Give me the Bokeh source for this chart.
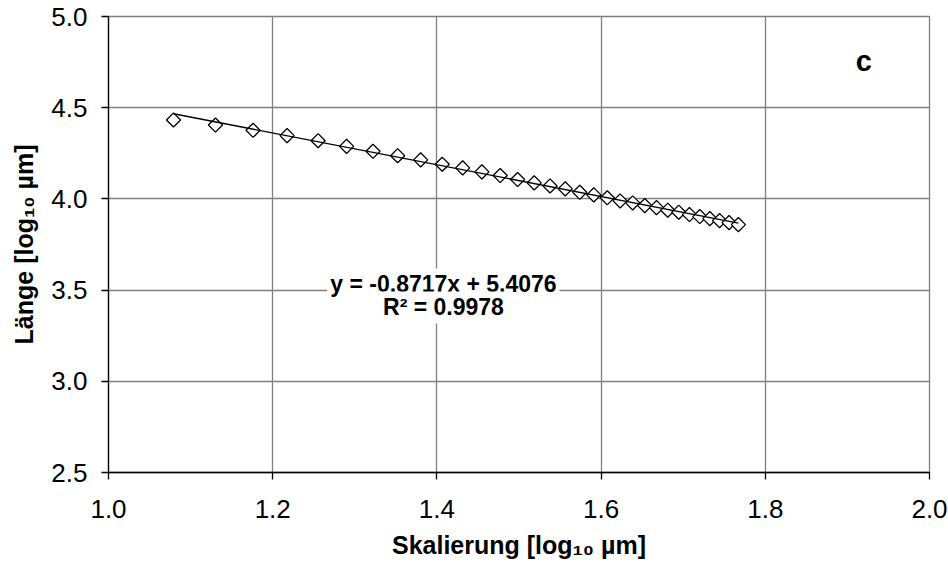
import numpy as np
from bokeh.plotting import figure
from bokeh.models import Range1d, FixedTicker, NumeralTickFormatter, Label
from bokeh.embed import file_html
from bokeh.resources import INLINE

# log10 of measuring scale (µm) and measured length (µm)
scale_log = [1.0792, 1.1303, 1.1761, 1.2175, 1.2553, 1.2900, 1.3222, 1.3522,
             1.3802, 1.4065, 1.4314, 1.4548, 1.4771, 1.4983, 1.5185, 1.5378,
             1.5563, 1.5740, 1.5911, 1.6075, 1.6232, 1.6385, 1.6532, 1.6675,
             1.6812, 1.6946, 1.7076, 1.7202, 1.7324, 1.7443, 1.7559, 1.7672]
length_log = [4.433, 4.405, 4.376, 4.347, 4.319, 4.288, 4.261, 4.237,
              4.214, 4.190, 4.170, 4.148, 4.128, 4.106, 4.088, 4.071,
              4.055, 4.036, 4.022, 4.006, 3.989, 3.978, 3.963, 3.952,
              3.938, 3.927, 3.914, 3.903, 3.892, 3.881, 3.870, 3.859]

# linear fit
slope = -0.8717
intercept = 5.4076
r_squared = 0.9978

x_ticks = [1.0, 1.2, 1.4, 1.6, 1.8, 2.0]
y_ticks = [2.5, 3.0, 3.5, 4.0, 4.5, 5.0]

FONT = "Liberation Sans"
GRID = "#7f7f7f"

p = figure(width=948, height=565, output_backend="svg", toolbar_location=None,
           x_range=Range1d(1.0, 2.0), y_range=Range1d(2.5, 5.0),
           min_border_left=108, min_border_right=19,
           min_border_top=16, min_border_bottom=93)
p.background_fill_color = "white"
p.border_fill_color = "white"
p.outline_line_color = GRID
p.outline_line_width = 1.3

for ax, ticks in ((p.xaxis, x_ticks), (p.yaxis, y_ticks)):
    ax.ticker = FixedTicker(ticks=ticks)
    ax.formatter = NumeralTickFormatter(format="0.0")
    ax.minor_tick_line_color = None
    ax.major_tick_in = 0
    ax.major_tick_out = 7
    ax.major_tick_line_color = "black"
    ax.major_tick_line_width = 1.3
    ax.axis_line_color = "black"
    ax.axis_line_width = 1.3
    ax.major_label_text_font = FONT
    ax.major_label_text_font_size = "26px"
    ax.major_label_text_color = "black"
    ax.axis_label_text_font = FONT
    ax.axis_label_text_font_size = "25px"
    ax.axis_label_text_font_style = "bold"
    ax.axis_label_text_color = "black"

p.xaxis.axis_label = "Skalierung [log₁₀ µm]"
p.yaxis.axis_label = "Länge [log₁₀ µm]"
p.xaxis.major_label_standoff = 20
p.yaxis.major_label_standoff = 14
p.xaxis.axis_label_standoff = 10
p.yaxis.axis_label_standoff = 10

for g, ticks in ((p.xgrid, x_ticks), (p.ygrid, y_ticks)):
    g.ticker = FixedTicker(ticks=ticks)
    g.grid_line_color = GRID
    g.grid_line_width = 1.3

# measured points
p.scatter(scale_log, length_log, marker="square", angle=np.pi / 4, size=10,
          fill_color="white", line_color="black", line_width=1.3)

# regression line over the data extent
x_fit = np.array([min(scale_log), max(scale_log)])
y_fit = slope * x_fit + intercept
p.line(x_fit, y_fit, line_color="black", line_width=1.3)

eq_text = f"y = {slope:.4f}x + {intercept:.4f}"
r2_text = f"R² = {r_squared:.4f}"
for txt, yy in ((eq_text, 3.531), (r2_text, 3.405)):
    p.add_layout(Label(x=1.408, y=yy, text=txt, text_align="center",
                       text_baseline="middle", text_font=FONT,
                       text_font_size="23px", text_font_style="bold",
                       text_color="black", background_fill_color="white",
                       background_fill_alpha=1.0, padding=3))

p.add_layout(Label(x=1.92, y=4.757, text="c", text_align="center",
                   text_baseline="middle", text_font=FONT,
                   text_font_size="29px", text_font_style="bold",
                   text_color="black"))

open("out.html", "w").write(file_html(p, INLINE))
